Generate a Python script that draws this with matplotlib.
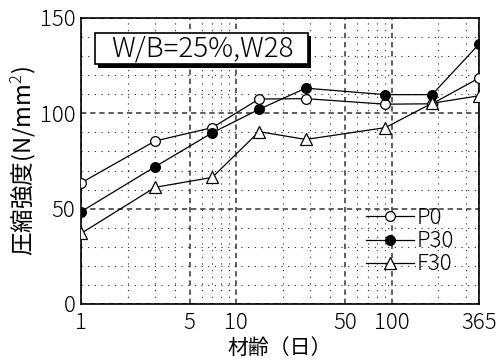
import matplotlib
matplotlib.use("Agg")
import matplotlib.pyplot as plt
import matplotlib.ticker as mticker
import matplotlib.patheffects as pe
from matplotlib.patches import Rectangle

plt.rcParams['font.family'] = ['Noto Sans CJK JP', 'DejaVu Sans']
plt.rcParams['font.weight'] = 'light'
plt.rcParams['mathtext.fontset'] = 'custom'
plt.rcParams['mathtext.rm'] = 'Noto Sans CJK JP:light'
plt.rcParams['mathtext.it'] = 'Noto Sans CJK JP:light'

# data
days = [1, 3, 7, 14, 28, 91, 182, 365]
p0 = [63.5, 85.5, 92.5, 107.5, 107.7, 104.8, 105.0, 118.5]
p30 = [48.4, 72.0, 89.8, 102.1, 113.2, 109.8, 109.8, 136.3]
f30 = [37.0, 61.2, 66.4, 90.4, 86.3, 92.5, 105.3, 109.2]
labels = ["P0", "P30", "F30"]
xticks = [1, 5, 10, 50, 100, 365]
yticks = [0, 50, 100, 150]

fig = plt.figure(figsize=(5.02, 3.6), dpi=100)
ax = fig.add_axes([81 / 502, 56 / 360, 398 / 502, 286 / 360])

ax.plot(days, p0, color='k', lw=0.9, marker='o', ms=7, mfc='white', mec='k', mew=0.9, label=labels[0], zorder=5)
ax.plot(days, p30, color='k', lw=0.9, marker='o', ms=7, mfc='black', mec='k', mew=0.9, label=labels[1], zorder=5)
ax.plot(days, f30, color='k', lw=0.9, marker='^', ms=8, mfc='white', mec='k', mew=0.9, label=labels[2], zorder=5)

ax.set_xscale('log')
ax.set_xlim(1, 365)
ax.set_ylim(0, 150)
ax.set_xticks(xticks)
ax.set_xticklabels([str(t) for t in xticks])
ax.xaxis.set_minor_locator(mticker.FixedLocator([2, 3, 4, 6, 7, 8, 9, 20, 30, 40, 60, 70, 80, 90, 200, 300]))
ax.xaxis.set_minor_formatter(mticker.NullFormatter())
ax.set_yticks(yticks)
ax.yaxis.set_minor_locator(mticker.MultipleLocator(10))

ax.tick_params(which='both', length=0, labelsize=16)
ax.tick_params(axis='y', pad=4)
ax.tick_params(axis='x', pad=6)

ax.grid(which='major', color='#333333', lw=1.1, linestyle=(0, (3.5, 2.5)))
ax.grid(which='minor', color='#222222', lw=0.8, linestyle=(0, (1, 5)))
ax.set_axisbelow(True)
for s in ax.spines.values():
    s.set_linewidth(1.2)

ax.set_xlabel("材齢（日）", fontsize=15, labelpad=2)
ax.set_ylabel("圧縮強度(N/mm$^2$)", fontsize=17, labelpad=1)

# title box with black drop shadow
box = Rectangle((0.035, 0.839), 0.535, 0.109, transform=ax.transAxes,
                fc='white', ec='black', lw=1.2, zorder=6)
box.set_path_effects([pe.SimplePatchShadow(offset=(2.5, -2.5), shadow_rgbFace='black', alpha=1.0),
                      pe.Normal()])
ax.add_patch(box)
ax.text(0.305, 0.893, "W/B=25%,W28", transform=ax.transAxes, fontsize=20,
        va='center', ha='center', zorder=7)

leg = ax.legend(loc='lower left', bbox_to_anchor=(0.715, 0.10), frameon=False,
                fontsize=16, handlelength=2.2, handletextpad=0.1,
                labelspacing=0.05, borderpad=0, borderaxespad=0)

fig.savefig("out.png", dpi=100)
